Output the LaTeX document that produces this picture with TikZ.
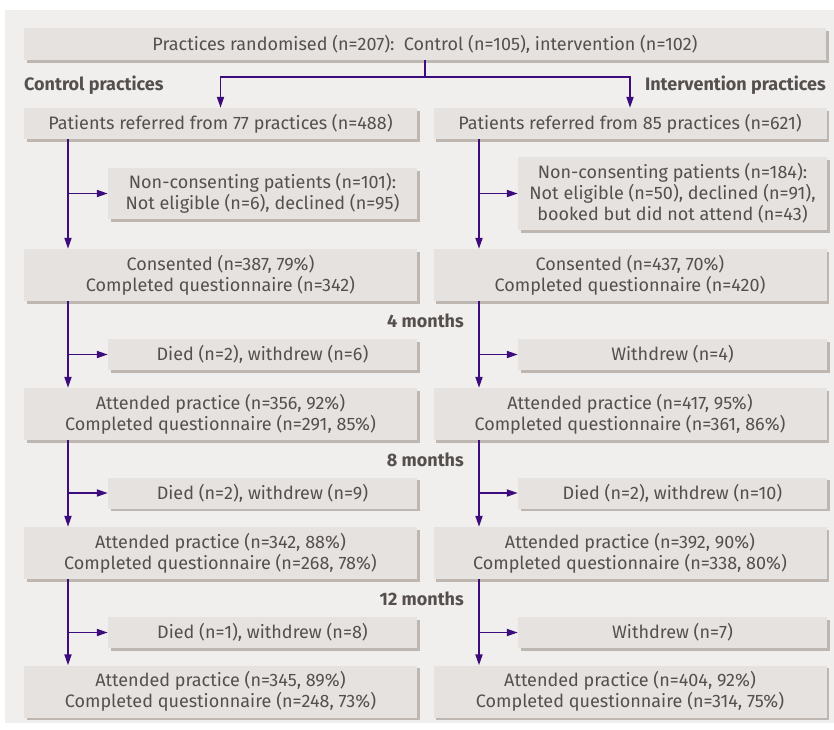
\documentclass[tikz,border=0pt]{standalone}
\usepackage{fontspec}
\setmainfont{Fira Sans}
\usetikzlibrary{arrows.meta,shadows}

\definecolor{panelgrey}{HTML}{F1EFED}
\definecolor{boxgrey}{HTML}{E6E2DF}
\definecolor{shadowgrey}{HTML}{BDB6B1}
\definecolor{flowpurple}{HTML}{3C0C7C}
\definecolor{textgrey}{HTML}{55504D}

\tikzset{
    box/.style={fill=boxgrey, text=textgrey, align=center, inner sep=0pt,
        general shadow={fill=shadowgrey, shadow xshift=2.5pt, shadow yshift=-2.5pt},
        font=\fontsize{18}{21}\selectfont},
    wide/.style={box, minimum width=393pt},
    side/.style={box, minimum width=309pt},
    grouplabel/.style={text=textgrey, inner sep=0pt, font=\fontsize{18}{20}\selectfont\bfseries},
    flow/.style={draw=flowpurple, line width=1.8pt, -{Triangle[length=11pt,width=7pt]}},
    stem/.style={draw=flowpurple, line width=1.8pt}
}

\begin{document}
\begin{tikzpicture}[x=1pt,y=-1pt]
            \useasboundingbox (0,0) rectangle (834,729);
            \fill[panelgrey] (5,10) rectangle (834,723);

            % randomisation
            \node[box, minimum width=802pt, minimum height=32pt] (rand) at (425,44) {Practices randomised (n=207):\ \ Control (n=105), intervention (n=102)};
            \node[grouplabel, anchor=west] (ctrllab) at (24,85) {Control practices};
            \node[grouplabel, anchor=east] (intlab) at (826,85) {Intervention practices};

            % control arm
            \node[wide, minimum height=31pt] (refC) at (220.5,123.5) {Patients referred from 77 practices (n=488)};
            \node[side, minimum height=51pt] (nonC) at (262.5,193.5) {Non-consenting patients (n=101):\\Not eligible (n=6), declined (n=95)};
            \node[wide, minimum height=52pt] (consC) at (220.5,275) {Consented (n=387, 79\%)\\Completed questionnaire (n=342)};
            \node[side, minimum height=31pt] (lossC4) at (262.5,354.5) {Died (n=2), withdrew (n=6)};
            \node[wide, minimum height=52pt] (attC4) at (220.5,414) {Attended practice (n=356, 92\%)\\Completed questionnaire (n=291, 85\%)};
            \node[side, minimum height=31pt] (lossC8) at (262.5,493) {Died (n=2), withdrew (n=9)};
            \node[wide, minimum height=52pt] (attC8) at (220.5,553) {Attended practice (n=342, 88\%)\\Completed questionnaire (n=268, 78\%)};
            \node[side, minimum height=31pt] (lossC12) at (262.5,632.5) {Died (n=1), withdrew (n=8)};
            \node[wide, minimum height=52pt] (attC12) at (220.5,691.5) {Attended practice (n=345, 89\%)\\Completed questionnaire (n=248, 73\%)};

            % intervention arm
            \node[wide, minimum height=31pt] (refI) at (630,123.5) {Patients referred from 85 practices (n=621)};
            \node[side, minimum height=73pt] (nonI) at (672.5,193.5) {Non-consenting patients (n=184):\\Not eligible (n=50), declined (n=91),\\booked but did not attend (n=43)};
            \node[wide, minimum height=52pt] (consI) at (630,275) {Consented (n=437, 70\%)\\Completed questionnaire (n=420)};
            \node[side, minimum height=31pt] (lossI4) at (672.5,354.5) {Withdrew (n=4)};
            \node[wide, minimum height=52pt] (attI4) at (630,414) {Attended practice (n=417, 95\%)\\Completed questionnaire (n=361, 86\%)};
            \node[side, minimum height=31pt] (lossI8) at (672.5,493) {Died (n=2), withdrew (n=10)};
            \node[wide, minimum height=52pt] (attI8) at (630,553) {Attended practice (n=392, 90\%)\\Completed questionnaire (n=338, 80\%)};
            \node[side, minimum height=31pt] (lossI12) at (672.5,632.5) {Withdrew (n=7)};
            \node[wide, minimum height=52pt] (attI12) at (630,691.5) {Attended practice (n=404, 92\%)\\Completed questionnaire (n=314, 75\%)};

            % follow-up labels
            \node[grouplabel, anchor=east] (m4) at (464,321) {4 months};
            \node[grouplabel, anchor=east] (m8) at (464,460) {8 months};
            \node[grouplabel, anchor=east] (m12) at (464,599) {12 months};

            % split after randomisation
            \coordinate (split) at (425,77);
            \draw[stem] (rand.south) -- (split);
            \draw[flow] (split) -| (refC.north);
            \draw[flow] (split) -| (refI.north);

            % stems of both arms
            \coordinate (sC) at (68,0);
            \coordinate (sI) at (479,0);
            \foreach \arm/\s in {C/sC, I/sI} {
                \draw[flow] (refC.south -| \s) -- (consC.north -| \s);
                \draw[flow] (consC.south -| \s) -- (attC4.north -| \s);
                \draw[flow] (attC4.south -| \s) -- (attC8.north -| \s);
                \draw[flow] (attC8.south -| \s) -- (attC12.north -| \s);
                \draw[flow] (\s |- non\arm.west) -- (non\arm.west);
                \draw[flow] (\s |- loss\arm4.west) -- (loss\arm4.west);
                \draw[flow] (\s |- loss\arm8.west) -- (loss\arm8.west);
                \draw[flow] (\s |- loss\arm12.west) -- (loss\arm12.west);
            }
        \end{tikzpicture}
\end{document}
